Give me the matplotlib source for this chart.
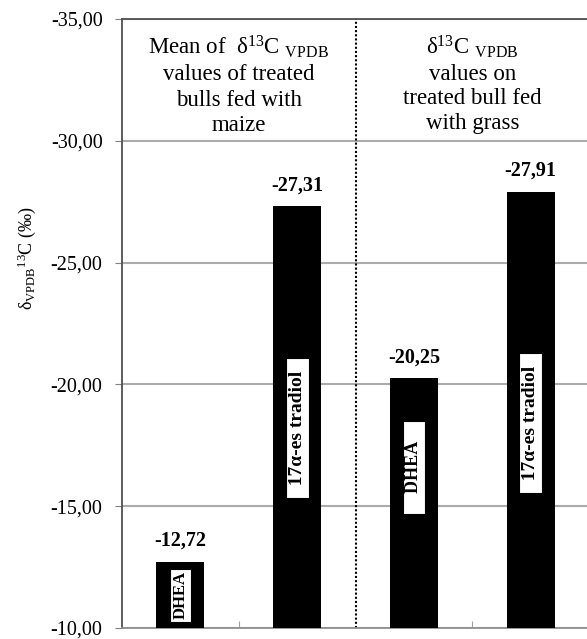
import matplotlib
matplotlib.use("Agg")
import matplotlib.pyplot as plt
import numpy as np

# ---- data ----
categories = ["DHEA", "17α-es tradiol", "DHEA", "17α-es tradiol"]
values = [-12.72, -27.31, -20.25, -27.91]
value_labels = ["-12,72", "-27,31", "-20,25", "-27,91"]
yticks = [-35, -30, -25, -20, -15, -10]
ytick_labels = ["-35,00", "-30,00", "-25,00", "-20,00", "-15,00", "-10,00"]
base = -10.0

plt.rcParams['font.family'] = ['Liberation Serif', 'DejaVu Serif']
plt.rcParams['mathtext.fontset'] = 'custom'
plt.rcParams['mathtext.rm'] = 'Liberation Serif'
plt.rcParams['mathtext.it'] = 'Liberation Serif:italic'

fig = plt.figure(figsize=(5.87, 6.39), dpi=100)
ax = fig.add_axes([122/587, 11/639, 1 - 122/587 + 2/587, (628-19)/639])

x = np.arange(len(values))
ax.bar(x, np.array(values) - base, bottom=base, width=0.41, color='black', zorder=3)

ax.set_xlim(-0.5, 3.5)
ax.set_ylim(-10, -35)
ax.set_yticks(yticks)
ax.set_yticklabels(ytick_labels, fontsize=14.5)
ax.yaxis.grid(True, color='#ababab', lw=1.5, zorder=0)
ax.set_axisbelow(True)

ax.set_xticks([0.5, 2.5])
ax.set_xticklabels([])
ax.tick_params(axis='x', direction='in', length=5, color='#a0a0a0')
ax.tick_params(axis='y', direction='out', length=5, color='#808080', pad=9)

for s in ['left', 'top']:
    ax.spines[s].set_color('#505050')
    ax.spines[s].set_linewidth(1.3)
ax.spines['bottom'].set_color('#909090')
ax.spines['bottom'].set_linewidth(1.3)
ax.spines['right'].set_visible(False)

# separator
ax.axvline(1.5, color='black', ls=(0, (1, 1)), lw=1.5, zorder=2)

# value labels
for xi, v, lab in zip(x, values, value_labels):
    ax.text(xi, v - 0.45, lab, ha='center', va='bottom', fontsize=14.5,
            fontweight='bold', zorder=4)

# in-bar labels
label_y = [-11.35, -18.2, -16.6, -18.4]
label_fs = [12, 14, 13, 14]
label_txt = ["DHEA", "  17α-es tradiol  ", "    DHEA    ", "  17α-es tradiol  "]
for xi, yy, t, fs in zip(x, label_y, label_txt, label_fs):
    ax.text(xi, yy, t, rotation=90, ha='center', va='center', fontsize=fs,
            fontweight='bold', zorder=5,
            bbox=dict(boxstyle='square,pad=0.15', fc='white', ec='black', lw=0.8))

# header texts
ax.text(0.5, -34.4, "Mean of  δ$^{13}$C $_{\\rm VPDB}$\nvalues of treated\nbulls fed with\nmaize",
        ha='center', va='top', fontsize=16.5, linespacing=1.27, zorder=4)
ax.text(2.5, -34.4, "δ$^{13}$C $_{\\rm VPDB}$\nvalues on\ntreated bull fed\nwith grass",
        ha='center', va='top', fontsize=16.5, linespacing=1.22, zorder=4)

ax.set_ylabel("δ$_{\\rm VPDB}$$^{13}$C ($\\it{‰}$)", fontsize=13)
ax.yaxis.set_label_coords(-0.18, 0.607)

fig.savefig("out.png", dpi=100)
